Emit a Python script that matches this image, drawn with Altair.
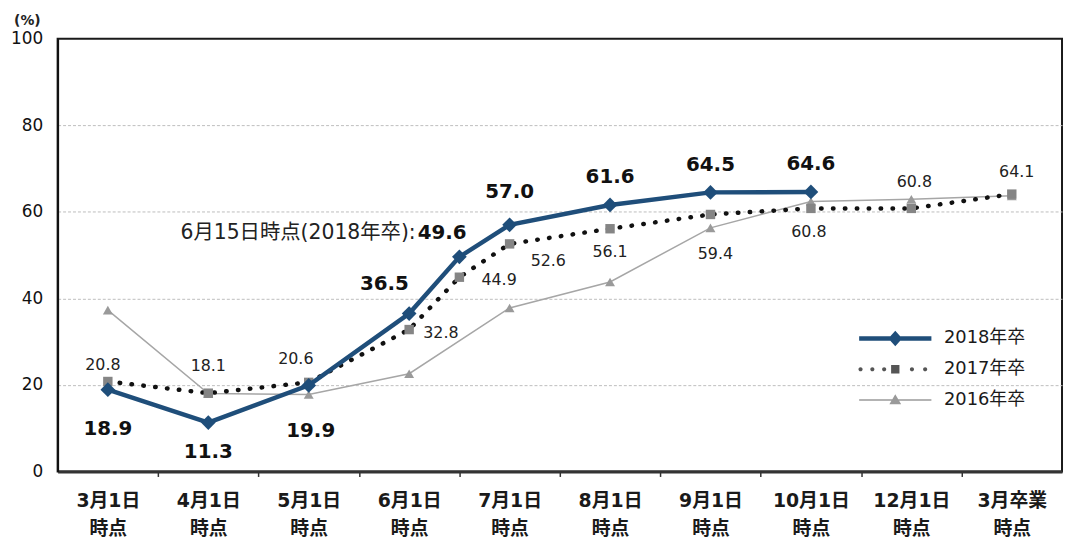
import json
import altair as alt
import pandas as pd

# ---------------- data ----------------
CATEGORIES = ["3月1日|時点", "4月1日|時点", "5月1日|時点", "6月1日|時点", "7月1日|時点",
              "8月1日|時点", "9月1日|時点", "10月1日|時点", "12月1日|時点", "3月卒業|時点"]
SERIES = ["2018年卒", "2017年卒", "2016年卒"]

# x = category index (3.5 = 6月15日時点, between 6月1日 and 7月1日)
X_2018 = [0, 1, 2, 3, 3.5, 4, 5, 6, 7]
V_2018 = [18.9, 11.3, 19.9, 36.5, 49.6, 57.0, 61.6, 64.5, 64.6]
X_2017 = [0, 1, 2, 3, 3.5, 4, 5, 6, 7, 8, 9]
V_2017 = [20.8, 18.1, 20.6, 32.8, 44.9, 52.6, 56.1, 59.4, 60.8, 60.8, 64.1]
X_2016 = [0, 1, 2, 3, 4, 5, 6, 7, 8, 9]
V_2016 = [37.3, 18.0, 17.8, 22.6, 37.8, 43.8, 56.3, 62.4, 62.9, 63.7]
MID_LABEL = "6月15日時点(2018年卒):"
Y_TITLE = "(%)"
Y_TICKS = [0, 20, 40, 60, 80, 100]
Y_GRID = [20, 40, 60, 80]

rows = []
for s, xs, vs in [(SERIES[0], X_2018, V_2018), (SERIES[1], X_2017, V_2017), (SERIES[2], X_2016, V_2016)]:
    for i, (x, v) in enumerate(zip(xs, vs)):
        rows.append({"series": s, "i": i, "x": x, "v": v})
df = pd.DataFrame(rows)

# ---------------- style ----------------
BLUE = "#1F4E7A"
NUM_FONT = "DejaVu Sans"
JP_FONT = "DejaVu Sans, Noto Sans CJK JP"

xscale = alt.Scale(domain=[-0.5, 9.5], nice=False, zero=False)
yscale = alt.Scale(domain=[0, 100], nice=False, zero=True)

label_expr = "split(" + json.dumps(CATEGORIES, ensure_ascii=False) + "[datum.value], '|')"

x_label_axis = alt.Axis(values=list(range(10)), ticks=False, labelExpr=label_expr,
                        labelFont=JP_FONT, labelFontWeight="bold", labelFontSize=19,
                        labelLineHeight=28, labelPadding=20, labelColor="#1a1a1a",
                        labelAngle=0, labelFlush=False, labelOverlap=False,
                        domainColor="#333333", domainWidth=3, grid=False, title=None,
                        orient="bottom")
x_tick_axis = alt.Axis(values=[k + 0.5 for k in range(9)], labels=False, ticks=True,
                       tickSize=5, tickColor="#333333", tickWidth=1.5, domain=False,
                       grid=False, title=None, orient="bottom")
y_label_axis = alt.Axis(values=Y_TICKS, grid=False, ticks=False, domainColor="#111111", domainWidth=2,
                        labelFont=NUM_FONT, labelFontSize=17, labelColor="#111111", labelPadding=15,
                        title=Y_TITLE, titleAngle=0, titleX=-31, titleY=-18, titleAlign="center",
                        titleBaseline="middle", titleFont=NUM_FONT, titleFontSize=14,
                        titleFontWeight="bold", titleColor="#222222", orient="left")
y_grid_axis = alt.Axis(values=Y_GRID, grid=True, gridDash=[3, 2], gridColor="#BDBDBD", gridWidth=1,
                       ticks=False, labels=False, domain=False, title=None, orient="left")

base = alt.Chart(df)


def enc(xaxis=None, yaxis=None):
    return dict(x=alt.X("x:Q", scale=xscale, axis=xaxis),
                y=alt.Y("v:Q", scale=yscale, axis=yaxis))


def sfilter(s):
    return f"datum.series == '{s}'"


line16 = base.transform_filter(sfilter(SERIES[2])).mark_line(
    color="#A6A6A6", strokeWidth=1.5).encode(**enc(None, y_grid_axis))
pts16 = base.transform_filter(sfilter(SERIES[2])).mark_point(
    shape="triangle-up", filled=True, size=100, color="#9A9A9A", opacity=1).encode(**enc(x_tick_axis))
line17 = base.transform_filter(sfilter(SERIES[1])).mark_line(
    color="#111111", strokeWidth=4.5, strokeDash=[0.5, 11.5], strokeCap="round").encode(**enc())
pts17 = base.transform_filter(sfilter(SERIES[1])).mark_point(
    shape="square", filled=True, size=90, color="#858585", opacity=1).encode(**enc())
line18 = base.transform_filter(sfilter(SERIES[0])).mark_line(
    color=BLUE, strokeWidth=4.5).encode(**enc(x_label_axis))
pts18 = base.transform_filter(sfilter(SERIES[0])).mark_point(
    shape="diamond", filled=True, size=220, color=BLUE, opacity=1).encode(**enc(None, y_label_axis))

# label placement (pixel offsets) per series / point index
OFF_2018 = {0: (0, 40), 1: (0, 30), 2: (2, 46), 3: (-25, -30), 5: (0, -33),
            6: (0, -28), 7: (0, -28), 8: (0, -28)}
OFF_2017 = {0: (-5, -17), 1: (0, -27), 2: (-13, -23), 3: (32, 3), 4: (40, 3), 5: (39, 17),
            6: (0, 23), 7: (5, 40), 8: (-2, 24), 9: (3, -27), 10: (5, -22)}

text_layers = []
for i, (dx, dy) in OFF_2018.items():
    text_layers.append(base.transform_filter(f"{sfilter(SERIES[0])} && datum.i == {i}").mark_text(
        dx=dx, dy=dy, font=NUM_FONT, fontSize=20, fontWeight="bold", color="#111111",
        align="center", baseline="middle").encode(text=alt.Text("v:Q", format=".1f"), **enc()))
for i, (dx, dy) in OFF_2017.items():
    text_layers.append(base.transform_filter(f"{sfilter(SERIES[1])} && datum.i == {i}").mark_text(
        dx=dx, dy=dy, font=NUM_FONT, fontSize=16, color="#222222",
        align="center", baseline="middle").encode(text=alt.Text("v:Q", format=".1f"), **enc()))
# 6月15日 point of 2018
text_layers.append(base.transform_filter(f"{sfilter(SERIES[0])} && datum.i == 4").mark_text(
    dx=-42, dy=-24, font=NUM_FONT, fontSize=20, fontWeight="bold", color="#111111",
    align="left", baseline="middle").encode(text=alt.Text("v:Q", format=".1f"), **enc()))
text_layers.append(base.transform_filter(f"{sfilter(SERIES[0])} && datum.i == 4").mark_text(
    text=MID_LABEL, dx=-44, dy=-24, font=JP_FONT, fontSize=20.5, color="#222222",
    align="right", baseline="middle").encode(**enc()))


# legend symbols: line with marker in the middle (custom symbol paths)
def rect(x0, x1, h):
    return f"M{x0},{-h}H{x1}V{h}H{x0}Z"


def dot(cx, r):
    return f"M{cx - r},0a{r},{r} 0 1,0 {2 * r},0a{r},{r} 0 1,0 {-2 * r},0Z"


PATH_2018 = rect(-5.2, 5.2, 0.32) + "M0,-1.1L1,0L0,1.1L-1,0Z"
PATH_2017 = "".join(dot(c, 0.3) for c in [-5.0, -3.3, -1.6, 2.4, 4.3]) + "M-0.6,-0.6H0.6V0.6H-0.6Z"
PATH_2016 = rect(-5.2, 5.2, 0.1) + "M0,-0.85L0.85,0.6L-0.85,0.6Z"

legend = alt.Legend(orient="none", legendX=835, legendY=293, title=None, padding=0,
                    labelFont=JP_FONT, labelFontSize=18, labelColor="#1a1a1a",
                    labelOffset=40, rowPadding=13, symbolSize=196, symbolStrokeWidth=0,
                    labelLimit=0)
legend_df = pd.DataFrame({"series": SERIES})
legend_layer = alt.Chart(legend_df).transform_filter("false").mark_point(
    filled=True, size=196, opacity=1).encode(
    shape=alt.Shape("series:N", scale=alt.Scale(domain=SERIES, range=[PATH_2018, PATH_2017, PATH_2016]),
                    legend=legend),
    color=alt.Color("series:N", scale=alt.Scale(domain=SERIES, range=[BLUE, "#555555", "#9A9A9A"]),
                    legend=legend),
)

chart = alt.layer(line16, pts16, line17, pts17, line18, pts18, *text_layers, legend_layer).resolve_axis(
    x="independent", y="independent"
).properties(
    width=1012, height=436,
    padding={"left": 50, "top": 29, "right": 2, "bottom": 65},
    autosize=alt.AutoSizeParams(type="none"),
    background="white",
).configure_view(stroke="#1a1a1a", strokeWidth=2)

chart.save("out.html", embed_options={"renderer": "svg", "actions": False})
